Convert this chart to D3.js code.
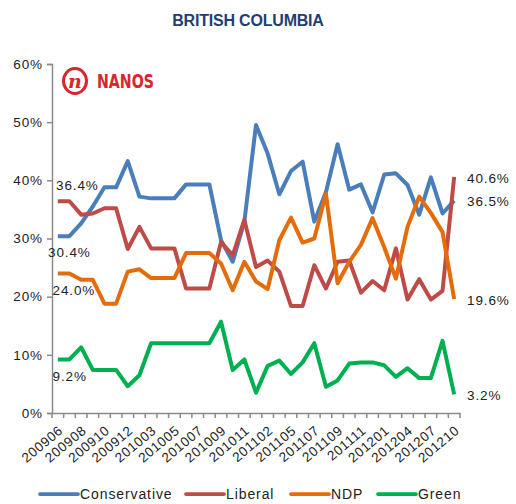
<!DOCTYPE html>
<html><head><meta charset="utf-8">
<script src="https://cdn.jsdelivr.net/npm/d3@7"></script>
<style>
html,body{margin:0;padding:0;background:#fff;}
svg{display:block;font-family:"Liberation Sans",Arial,sans-serif;}
</style></head>
<body>
<svg id="chart" width="516" height="504"></svg>
<script>
const categories = ["200906","200907","200908","200909","200910","200911","200912","201002","201003","201004","201005","201006","201007","201008","201009","201010","201011","201101","201102","201104","201105","201106","201107","201108","201109","201110","201111","201112","201201","201203","201204","201206","201207","201209","201210"];
const conservative = [30.4,30.4,32.6,35.5,38.8,38.8,43.3,37.2,36.9,36.9,36.9,39.3,39.3,39.3,29.7,26.0,32.9,49.5,44.6,37.6,41.6,43.2,32.9,38.0,46.2,38.4,39.3,34.5,41.0,41.2,39.2,34.1,40.5,34.3,36.5];
const liberal = [36.4,36.4,34.1,34.3,35.2,35.2,28.2,32.0,28.3,28.3,28.3,21.4,21.4,21.4,29.4,27.1,33.2,25.1,26.2,24.3,18.4,18.4,25.4,21.4,26.0,26.2,20.7,22.7,21.1,28.3,19.5,23.0,19.5,21.0,40.6];
const ndp = [24.0,24.0,22.9,22.9,18.8,18.8,24.3,24.7,23.2,23.2,23.2,27.5,27.5,27.5,25.7,21.1,26.0,22.6,21.3,29.7,33.6,29.3,30.0,37.7,22.3,26.0,28.9,33.5,28.5,23.1,32.0,37.2,34.4,31.1,19.6];
const green = [9.2,9.2,11.3,7.4,7.4,7.4,4.6,6.5,12.0,12.0,12.0,12.0,12.0,12.0,15.7,7.4,9.2,3.5,8.1,9.0,6.7,8.7,12.0,4.5,5.6,8.5,8.7,8.7,8.2,6.2,7.7,6.0,6.0,12.4,3.2];
const seriesNames = ["Conservative","Liberal","NDP","Green"];
const seriesColors = ["#4A7EBB","#BE4B48","#E46C0A","#00B050"];
const yTicks = [0,10,20,30,40,50,60];
const labeledCategories = categories.filter((d,i)=>i%2===0);

const series = [conservative, liberal, ndp, green];
const svg = d3.select("#chart");
const x = d3.scaleBand().domain(categories).range([52,460]).padding(0);
const y = d3.scaleLinear().domain([0,60]).range([413,64]);
const cx = c => x(c) + x.bandwidth()/2;
const axisColor = "#8A8A8A";
const txt = "#222";

// title
svg.append("text").attr("x",248).attr("y",26).attr("text-anchor","middle")
  .attr("font-size",16).attr("font-weight","bold").attr("fill","#1F3F73")
  .attr("letter-spacing","-0.2").text("BRITISH COLUMBIA");

// logo
const logo = svg.append("g");
logo.append("ellipse").attr("cx",75).attr("cy",81).attr("rx",11.5).attr("ry",12.5)
  .attr("fill","none").attr("stroke","#D7262E").attr("stroke-width",3);
logo.append("text").attr("x",75).attr("y",88).attr("text-anchor","middle")
  .attr("font-size",19).attr("font-style","italic").attr("font-weight","bold")
  .attr("font-family","'DejaVu Serif',serif").attr("fill","#D7262E").text("n");
logo.append("text").attr("x",97).attr("y",88).attr("font-size",20).attr("font-weight","bold")
  .attr("fill","#D7262E").attr("textLength",57).attr("lengthAdjust","spacingAndGlyphs")
  .attr("font-family","'Liberation Sans Narrow','DejaVu Sans Condensed',sans-serif").text("NANOS");

// y axis
const yAxis = d3.axisLeft(y).tickValues(yTicks).tickSize(5).tickPadding(4).tickFormat(d=>d+"%");
const yg = svg.append("g").attr("transform","translate(52,0)").call(yAxis);
yg.select(".domain").attr("stroke",axisColor).attr("stroke-width",1.5);
yg.selectAll(".tick line").attr("stroke",axisColor).attr("stroke-width",1.5);
yg.selectAll(".tick text").attr("font-size",13.5).attr("letter-spacing","0.9").attr("fill",txt)
  .attr("font-family","'Liberation Sans',Arial,sans-serif");

// x axis
const xAxis = d3.axisBottom(x).tickValues(labeledCategories).tickSize(0).tickPadding(0);
const xg = svg.append("g").attr("transform","translate(0,413)").call(xAxis);
xg.select(".domain").attr("stroke",axisColor).attr("stroke-width",1.5);
xg.selectAll(".tick text").attr("font-size",13.5).attr("fill",txt).attr("letter-spacing","0.6")
  .attr("font-family","'Liberation Sans',Arial,sans-serif")
  .attr("text-anchor","end").attr("dy",0).attr("y",0)
  .attr("transform","translate(6,19) rotate(-40)");
const boundaries = categories.map(c=>x(c)).concat([x.range()[1]]);
xg.selectAll("line.bt").data(boundaries).enter().append("line").attr("class","bt")
  .attr("x1",d=>d).attr("x2",d=>d).attr("y1",0).attr("y2",5)
  .attr("stroke",axisColor).attr("stroke-width",1.5);

// lines
const line = d3.line().x((d,i)=>cx(categories[i])).y(d=>y(d));
series.forEach((s,k)=>{
  svg.append("path").datum(s).attr("d",line).attr("fill","none")
    .attr("stroke",seriesColors[k]).attr("stroke-width",4)
    .attr("stroke-linejoin","round").attr("stroke-linecap","butt");
});

// value labels
const lab = (t,xx,yy)=>svg.append("text").attr("x",xx).attr("y",yy).attr("font-size",13.5)
  .attr("letter-spacing","0.9").attr("fill",txt).text(t);
const fmt = v=>v.toFixed(1)+"%";
lab(fmt(liberal[0]),56,190);
lab(fmt(conservative[0]),48,257);
lab(fmt(ndp[0]),52.5,295);
lab(fmt(green[0]),52.5,381);
lab(fmt(liberal[34]),467,183);
lab(fmt(conservative[34]),467,206);
lab(fmt(ndp[34]),467,305);
lab(fmt(green[34]),467,400);

// legend
const legendX = [40,186,291,378];
seriesNames.forEach((n,k)=>{
  const g = svg.append("g");
  g.append("line").attr("x1",legendX[k]).attr("x2",legendX[k]+38).attr("y1",494).attr("y2",494)
    .attr("stroke",seriesColors[k]).attr("stroke-width",3.75).attr("stroke-linecap","round");
  g.append("text").attr("x",legendX[k]+40).attr("y",499).attr("font-size",14)
    .attr("letter-spacing","0.9").attr("fill",txt).text(n);
});
</script>
</body></html>
